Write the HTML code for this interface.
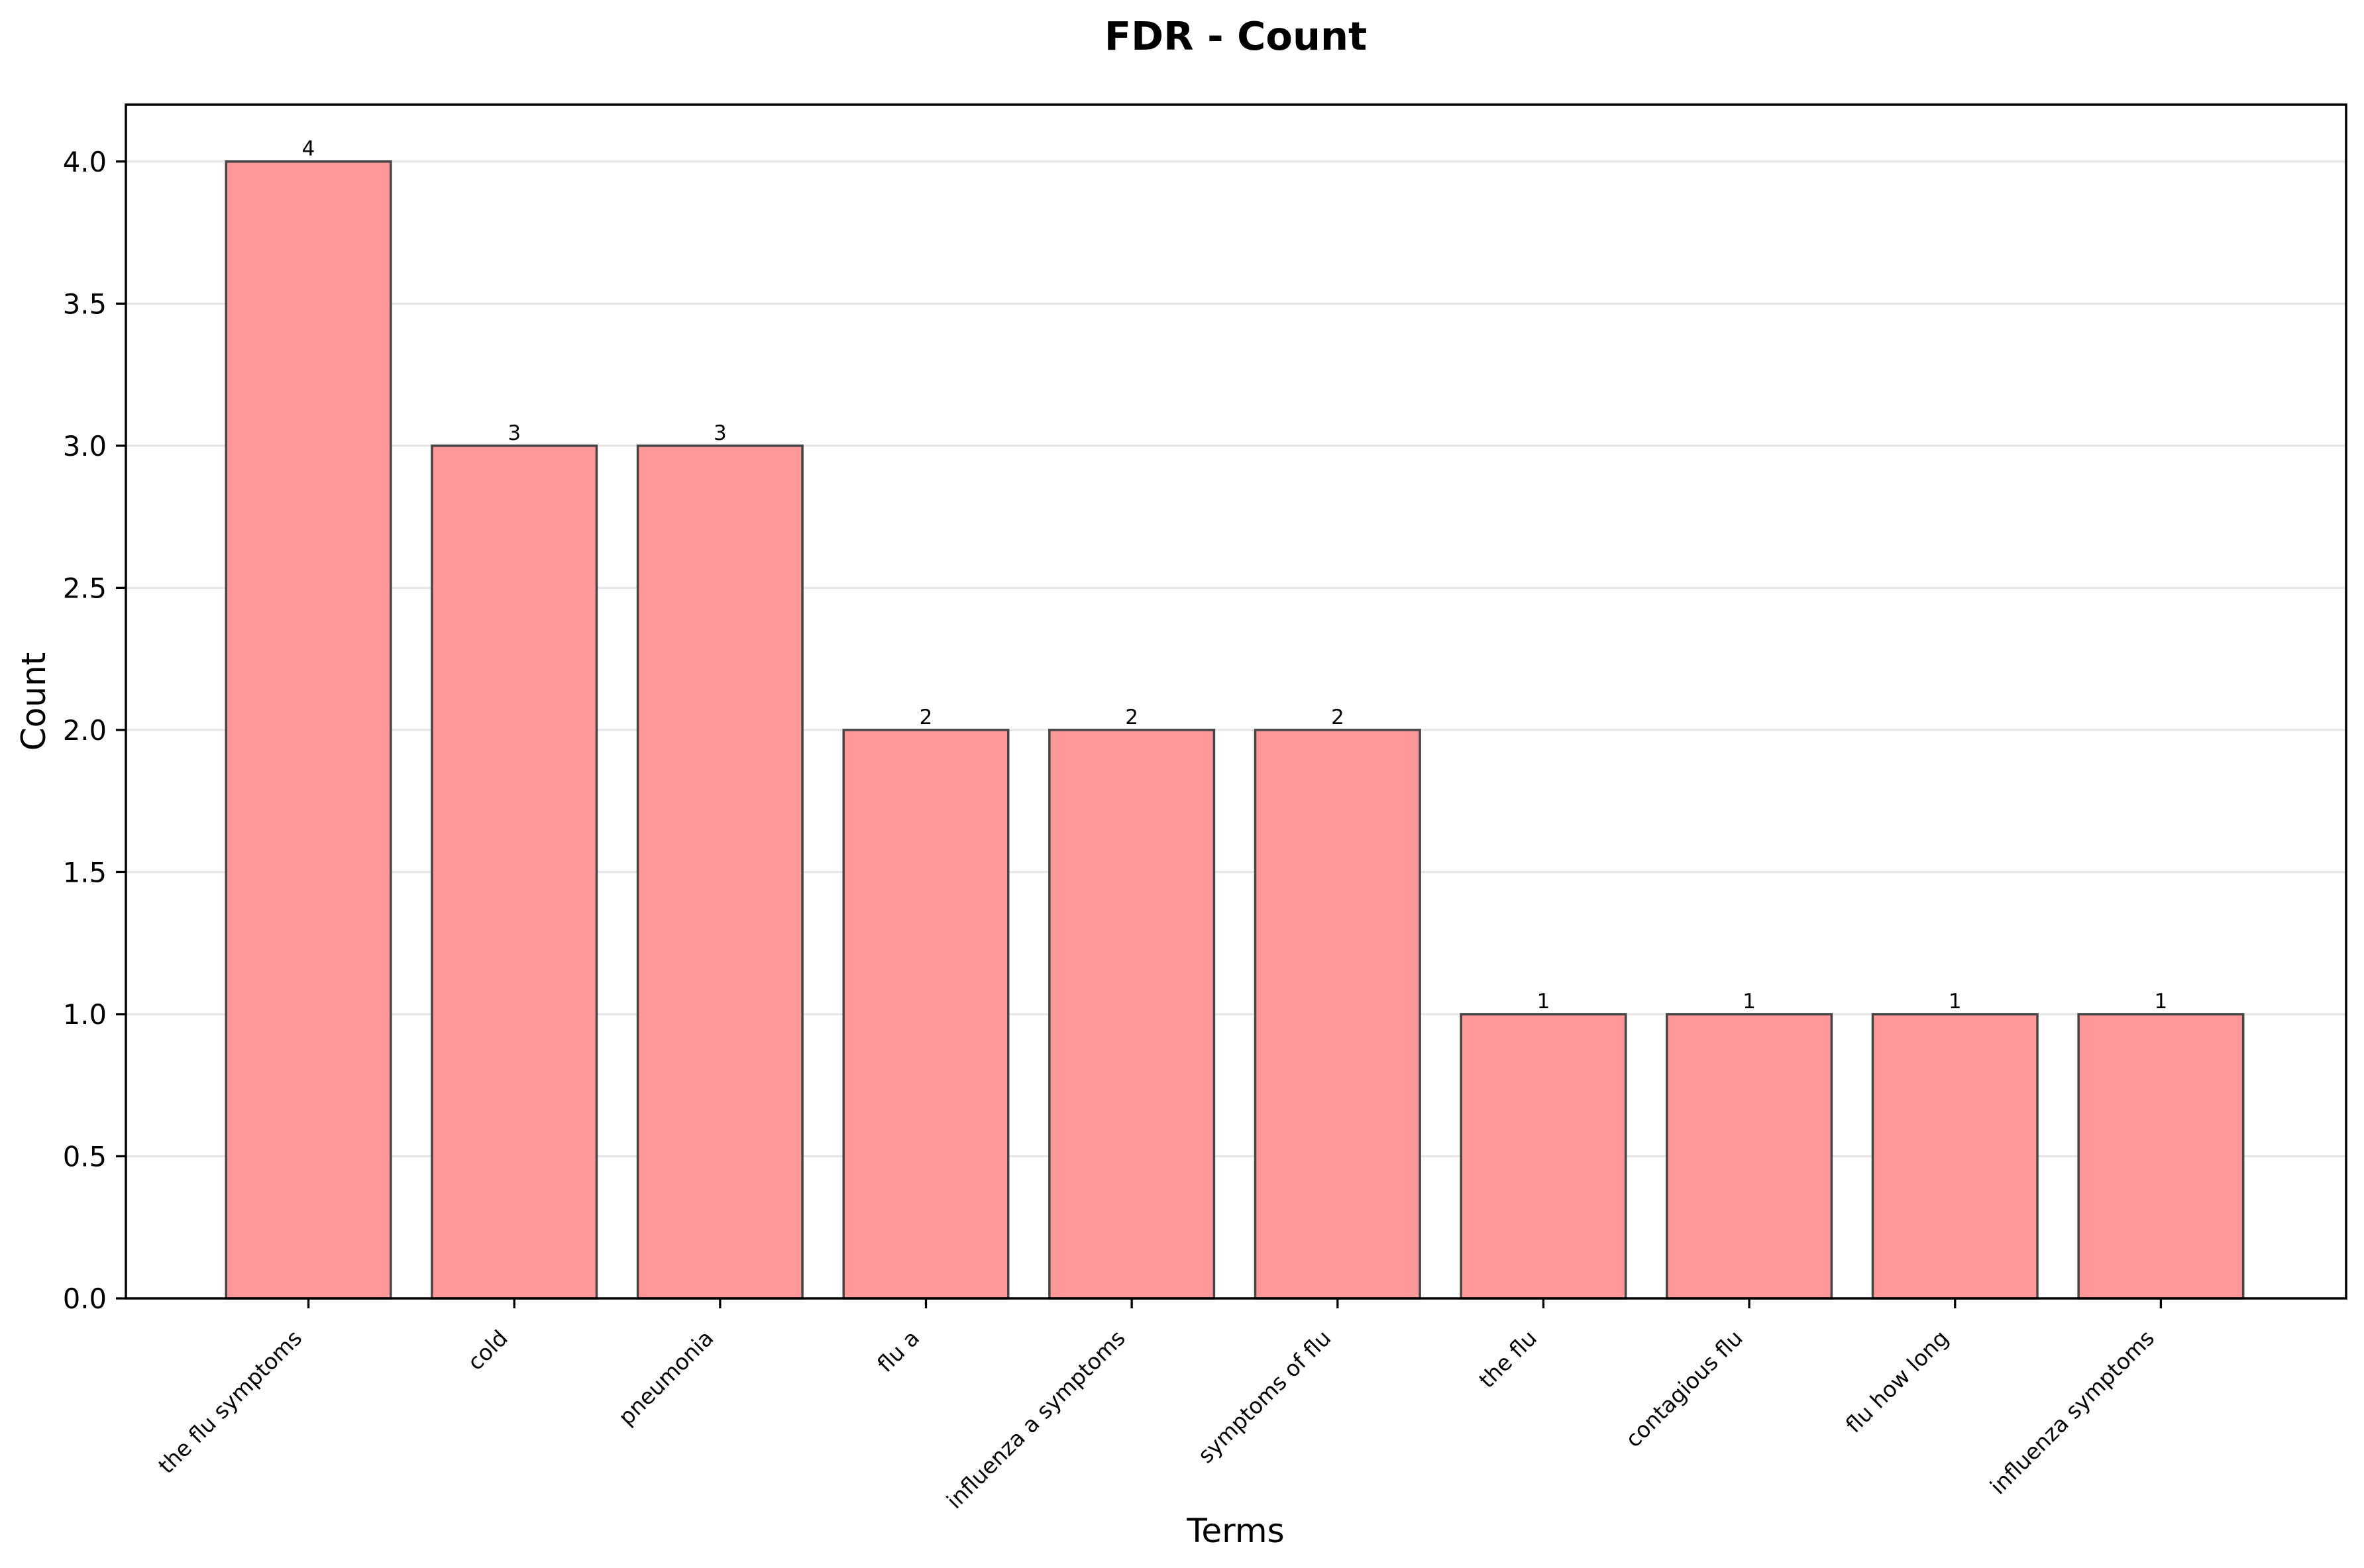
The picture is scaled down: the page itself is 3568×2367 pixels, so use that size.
<!DOCTYPE html>
<html><head><meta charset="utf-8"><style>
html,body{margin:0;padding:0;background:#fff;}
svg{display:block;font-family:"DejaVu Sans","Liberation Sans",sans-serif;}
</style></head><body>
<svg id="chart" width="3568" height="2367" viewBox="0 0 3568 2367" xmlns="http://www.w3.org/2000/svg">
<rect width="3568" height="2367" fill="#fff"/>
<text x="1865" y="75" text-anchor="middle" font-size="59" font-weight="bold">FDR - Count</text>
<text x="1865" y="2328" text-anchor="middle" font-size="50">Terms</text>
<text transform="translate(68,1059) rotate(-90)" text-anchor="middle" font-size="50">Count</text>
<g id="grid"></g><g id="bars"></g><g id="axes"></g>
</svg>
<script>
const categories = ["the flu symptoms","cold","pneumonia","flu a","influenza a symptoms","symptoms of flu","the flu","contagious flu","flu how long","influenza symptoms"];
const counts = [4,3,3,2,2,2,1,1,1,1];
const yTicks = [0,0.5,1,1.5,2,2.5,3,3.5,4];
const yTickLabels = ["0.0","0.5","1.0","1.5","2.0","2.5","3.0","3.5","4.0"];

const NS = "http://www.w3.org/2000/svg";
const L=190, R=3541, T=158, B=1960;
const yMax=4.2, xMin=-0.887, xMax=9.9;
const xS = i => L + (i - xMin) / (xMax - xMin) * (R - L);
const yS = v => B - v / yMax * (B - T);
function mk(tag, attrs, parent){const e=document.createElementNS(NS,tag);for(const k in attrs)e.setAttribute(k,attrs[k]);parent.appendChild(e);return e;}
const grid=document.getElementById('grid'), bars=document.getElementById('bars'), axes=document.getElementById('axes');
const step = xS(1)-xS(0), bw = step*0.8;

yTicks.forEach((v,i)=>{
  const y=yS(v);
  if(v>0){const g=mk('line',{x1:L,x2:R,y1:y,y2:y,stroke:'#e6e6e6','stroke-width':3},grid);
  
  }
  const t=mk('line',{x1:L-15,x2:L,y1:y,y2:y,stroke:'#000','stroke-width':3.3},axes);
  
  
  const lb=mk('text',{x:L-29,y:y+15,'text-anchor':'end','font-size':41.7},axes);
  lb.textContent=yTickLabels[i];
  
  
});

categories.forEach((c,i)=>{
  const cx=xS(i), top=yS(counts[i]);
  const r=mk('rect',{x:cx-bw/2,y:top,width:bw,height:B-top,fill:'#ff9999',stroke:'#444','stroke-width':3.5},bars);
  
  
  const v=mk('text',{x:cx,y:top-9,'text-anchor':'middle','font-size':31},bars);
  v.textContent=String(counts[i]);
  
  
  const t=mk('line',{x1:cx,x2:cx,y1:B,y2:B+15,stroke:'#000','stroke-width':3.3},axes);
  
  
  const px=cx-8, py=2022;
  const lb=mk('text',{x:px,y:py,'text-anchor':'end','font-size':33,transform:`rotate(-45 ${px} ${py})`},axes);
  lb.textContent=c;
  
  
});

const f=mk('rect',{x:L,y:T,width:R-L,height:B-T,fill:'none',stroke:'#000','stroke-width':3.5},axes);


</script>
</body></html>
